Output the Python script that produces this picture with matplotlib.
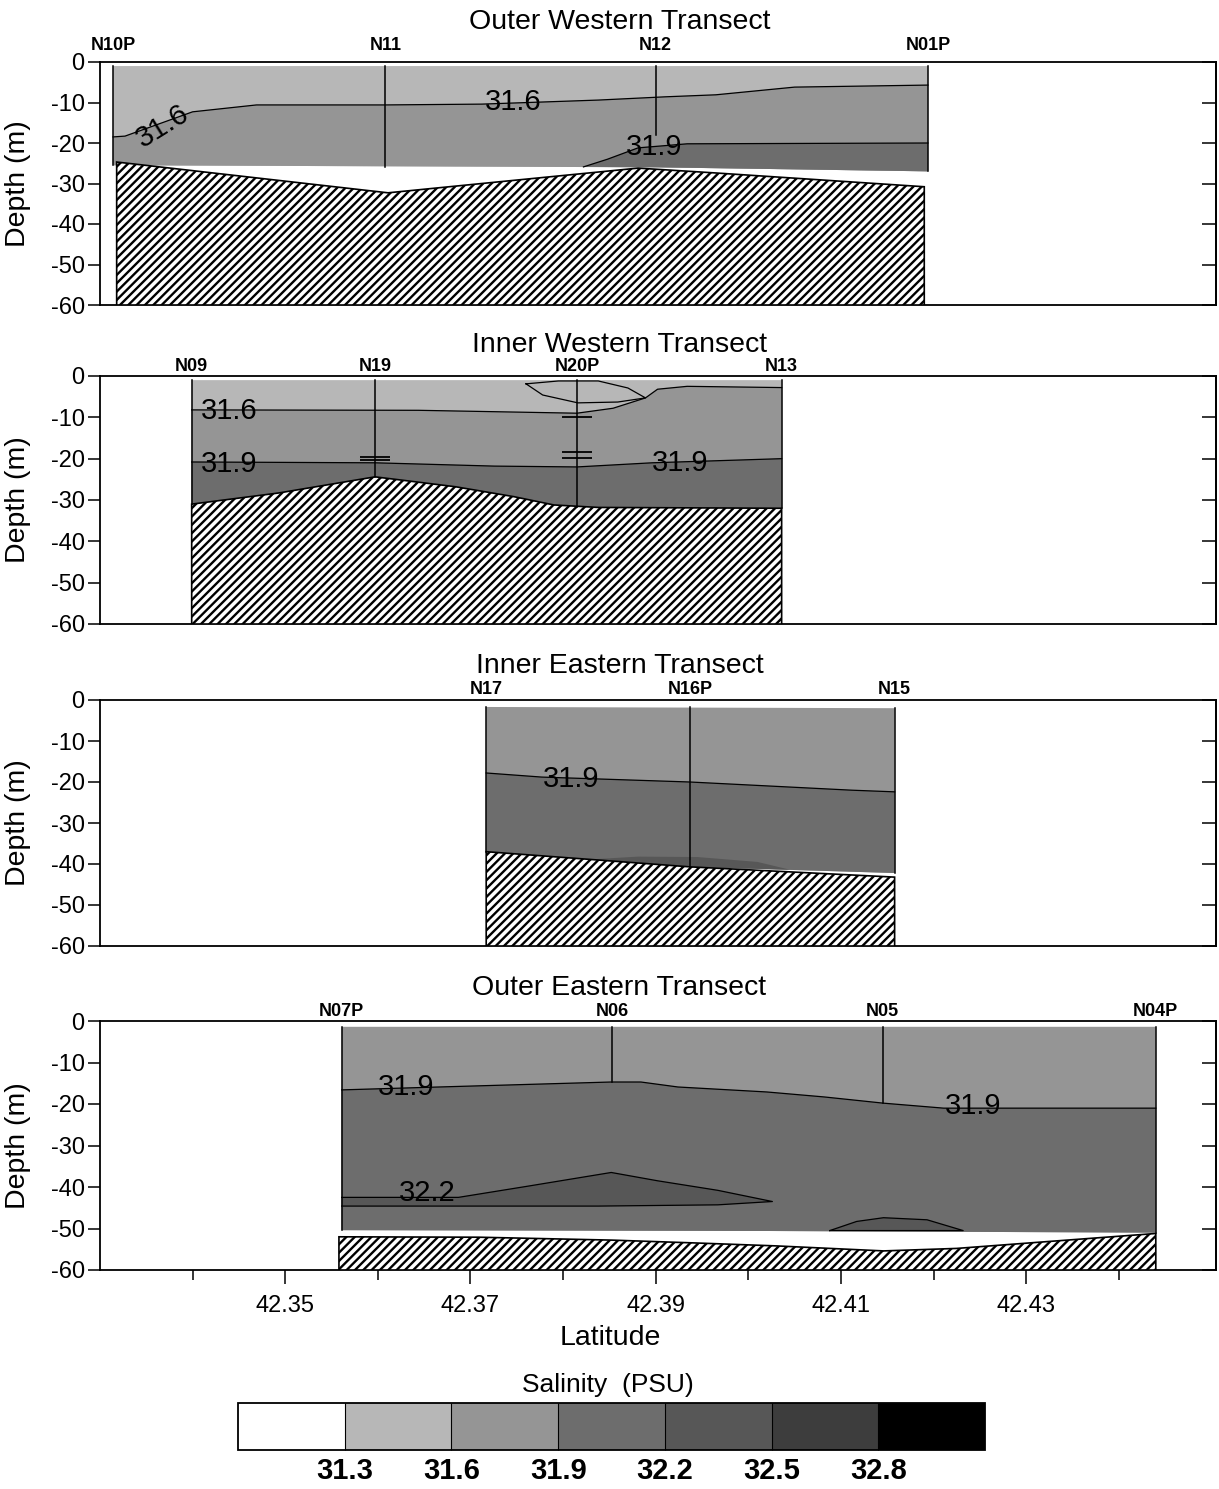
import numpy as np
import matplotlib
matplotlib.use('Agg')
import matplotlib.pyplot as plt
from matplotlib.colors import ListedColormap, BoundaryNorm
import matplotlib.cm as cm
import matplotlib.transforms as mtransforms

plt.rcParams['font.family'] = ['Liberation Sans', 'DejaVu Sans']
plt.rcParams['hatch.linewidth'] = 1.7
plt.rcParams['axes.unicode_minus'] = False

# ---------------- salinity classes / axes ----------------
sal_levels = [31.0, 31.3, 31.6, 31.9, 32.2, 32.5, 32.8, 33.1]
sal_ticks = [31.3, 31.6, 31.9, 32.2, 32.5, 32.8]
class_colors = ['#ffffff', '#b7b7b7', '#959595', '#6d6d6d', '#575757', '#3d3d3d', '#000000']
lat_ticks = [42.35, 42.37, 42.39, 42.41, 42.43]
lat_minor = [42.34, 42.36, 42.38, 42.40, 42.42, 42.44]
depth_ticks = [0, -10, -20, -30, -40, -50, -60]
titles = ['Outer Western Transect', 'Inner Western Transect',
          'Inner Eastern Transect', 'Outer Eastern Transect']

# ---------------- Outer Western ----------------
ow_names = ['N10P', 'N11', 'N12', 'N01P']
ow_lat = [42.3314, 42.3608, 42.3900, 42.4194]
ow_cast = [-25.5, -26.0, -18.0, -27.0]
ow_top = [-1.0, -1.0]
ow_bot_lat = [42.3314, 42.3900, 42.4194]
ow_bot = [-25.5, -26.0, -27.0]
ow_iso316_lat = [42.3314, 42.3327, 42.3400, 42.3469, 42.3608, 42.3712, 42.3838, 42.3910, 42.3965, 42.4050, 42.4194]
ow_iso316 = [-18.5, -18.3, -12.3, -10.6, -10.6, -10.4, -9.4, -8.6, -8.1, -6.2, -5.7]
ow_iso319_lat = [42.3822, 42.3848, 42.3881, 42.3934, 42.4194]
ow_iso319 = [-25.9, -24.0, -21.2, -20.2, -20.0]
ow_bathy_lat = [42.3318, 42.3611, 42.3730, 42.3881, 42.3965, 42.4190]
ow_bathy = [-24.7, -32.3, -29.6, -26.2, -27.4, -30.8]
ow_labels = [('31.6', 42.3368, -15.8, 32), ('31.6', 42.3746, -9.9, 0), ('31.9', 42.3898, -21.0, 0)]

# ---------------- Inner Western ----------------
iw_names = ['N09', 'N19', 'N20P', 'N13']
iw_lat = [42.3399, 42.3597, 42.3815, 42.4036]
iw_cast = [-31.0, -24.4, -31.7, -32.0]
iw_top = [-1.0, -1.0]
iw_bot_lat = [42.3399, 42.3493, 42.3597, 42.3684, 42.3747, 42.3790, 42.3838, 42.4036]
iw_bot = [-31.0, -28.3, -24.4, -26.8, -29.2, -31.2, -31.8, -32.0]
iw_iso316_lat = [42.3399, 42.3644, 42.3815, 42.3854, 42.3889, 42.3902, 42.3934, 42.4036]
iw_iso316 = [-8.2, -8.3, -9.0, -7.8, -5.3, -3.2, -2.5, -2.8]
iw_iso319_lat = [42.3399, 42.3597, 42.3726, 42.3815, 42.3896, 42.4036]
iw_iso319 = [-20.8, -21.0, -21.8, -22.0, -21.0, -20.0]
iw_lens_lat = [42.3760, 42.3795, 42.3838, 42.3870, 42.3889, 42.3859, 42.3816, 42.3778, 42.3760]
iw_lens = [-1.9, -1.2, -1.2, -2.9, -5.3, -6.3, -6.5, -4.6, -1.9]
iw_bathy_lat = iw_bot_lat
iw_bathy = iw_bot
iw_mark_lat = [42.3597, 42.3597, 42.3815, 42.3815, 42.3815]
iw_mark = [-19.6, -20.4, -9.9, -18.4, -19.9]
iw_labels = [('31.6', 42.3439, -8.5, 0), ('31.9', 42.3439, -21.3, 0), ('31.9', 42.3926, -21.0, 0)]

# ---------------- Inner Eastern ----------------
ie_names = ['N17', 'N16P', 'N15']
ie_lat = [42.3717, 42.3937, 42.4158]
ie_cast = [-37.0, -40.7, -42.2]
ie_top = [-1.7, -2.0]
ie_bot_lat = [42.3717, 42.3937, 42.4158]
ie_bot = [-37.0, -40.7, -42.2]
ie_iso319_lat = [42.3717, 42.3777, 42.3937, 42.4112, 42.4158]
ie_iso319 = [-17.8, -18.8, -20.0, -22.0, -22.4]
ie_lens_lat = [42.3828, 42.3881, 42.3945, 42.4010, 42.4045, 42.3937, 42.3828]
ie_lens = [-38.9, -38.2, -38.3, -39.5, -41.4, -40.7, -38.9]
ie_bathy_lat = [42.3717, 42.3937, 42.4158]
ie_bathy = [-37.0, -40.7, -43.2]
ie_labels = [('31.9', 42.3809, -19.3, 0)]

# ---------------- Outer Eastern ----------------
oe_names = ['N07P', 'N06', 'N05', 'N04P']
oe_lat = [42.3561, 42.3853, 42.4145, 42.4440]
oe_cast = [-50.4, -14.7, -19.8, -51.0]
oe_top = [-1.4, -1.4]
oe_bot_lat = [42.3561, 42.4020, 42.4440]
oe_bot = [-50.4, -50.6, -51.0]
oe_iso319_lat = [42.3561, 42.3666, 42.3852, 42.3884, 42.3924, 42.4020, 42.4082, 42.4146, 42.4211, 42.4440]
oe_iso319 = [-16.6, -15.9, -14.7, -14.7, -15.9, -17.1, -18.3, -19.8, -21.0, -21.0]
oe_lens1_lat = [42.3561, 42.3687, 42.3762, 42.3852, 42.3902, 42.3967, 42.4026, 42.3967, 42.3838, 42.3687, 42.3561]
oe_lens1 = [-42.5, -42.5, -39.8, -36.5, -38.5, -40.8, -43.5, -44.3, -44.6, -44.6, -44.6]
oe_lens2_lat = [42.4088, 42.4117, 42.4146, 42.4193, 42.4232, 42.4088]
oe_lens2 = [-50.5, -48.3, -47.4, -47.9, -50.5, -50.5]
oe_bathy_lat = [42.3558, 42.3709, 42.3853, 42.3945, 42.4031, 42.4146, 42.4225, 42.4332, 42.4440]
oe_bathy = [-52.0, -52.1, -52.8, -53.5, -54.2, -55.4, -54.8, -53.0, -51.2]
oe_labels = [('31.9', 42.3631, -15.9, 0), ('31.9', 42.4243, -20.5, 0), ('32.2', 42.3653, -41.4, 0)]

# ---------------- figure ----------------
fig = plt.figure(figsize=(12.19, 14.89), dpi=100)
W, H = 1219.0, 1489.0
panel_px = [(62, 305), (376, 624), (700, 946), (1021, 1270)]
title_px = [22, 345, 666, 988]
name_px = [46, 367, 690, 1012]
left_px, right_px = 100, 1216

LW_LINE = 0.9


def poly_fill(ax, xs, ys, color, zorder=2):
    ax.fill(xs, ys, facecolor=color, edgecolor='none', zorder=zorder)


def region(ax, st_lat, top, bot_lat, bot, color):
    xs = [st_lat[0], st_lat[-1]] + list(bot_lat[::-1])
    ys = [top[0], top[1]] + list(bot[::-1])
    poly_fill(ax, xs, ys, color, 2)


def below(ax, iso_lat, iso, bot_lat, bot, color):
    xs = list(iso_lat)
    ys = list(iso)
    for bl, bd in zip(bot_lat[::-1], bot[::-1]):
        if iso_lat[0] - 3e-4 <= bl <= iso_lat[-1] + 3e-4:
            xs.append(bl)
            ys.append(bd)
    poly_fill(ax, xs, ys, color, 3)
    ax.plot(iso_lat, iso, color='k', lw=LW_LINE, zorder=5)


def lens(ax, llat, ldep, color, outline=True):
    poly_fill(ax, llat, ldep, color, 4)
    if outline:
        ax.plot(llat, ldep, color='k', lw=LW_LINE, zorder=5)


def bathy(ax, blat, bdep):
    xs = list(blat) + [blat[-1], blat[0]]
    ys = list(bdep) + [-60, -60]
    ax.fill(xs, ys, facecolor='white', edgecolor='black', hatch='////',
            linewidth=1.2, zorder=6)


def stations(ax, names, lats, casts, top, y_name_px, ax_top_px):
    trans = mtransforms.blended_transform_factory(ax.transData, ax.transAxes)
    off = (ax_top_px - y_name_px) * 0.72
    for i, (n, la, c) in enumerate(zip(names, lats, casts)):
        t = top[0] if i < len(names) - 1 else top[1]
        ax.plot([la, la], [t, c], color='k', lw=1.1, zorder=7)
        ax.annotate(n, xy=(la, 1.0), xycoords=trans, xytext=(0, off),
                    textcoords='offset points', ha='center', va='center',
                    fontsize=13, fontweight='bold', annotation_clip=False)


def labels(ax, labs):
    for t, la, d, rot in labs:
        ax.text(la, d, t, fontsize=21, ha='center', va='center', rotation=rot,
                zorder=8, color='k')


axes = []
for k, (t_px, b_px) in enumerate(panel_px):
    ax = fig.add_axes([left_px / W, 1 - b_px / H, (right_px - left_px) / W, (b_px - t_px) / H])
    ax.set_xlim(42.330, 42.4505)
    ax.set_ylim(-60, 0)
    ax.set_yticks(depth_ticks)
    ax.set_yticklabels([str(v) for v in depth_ticks], fontsize=17)
    ax.tick_params(axis='y', direction='out', length=9, width=1.1, pad=2)
    for s in ax.spines.values():
        s.set_linewidth(1.3)
    sec = ax.secondary_yaxis('right')
    sec.set_yticks(depth_ticks)
    sec.tick_params(axis='y', direction='in', length=10, width=1.1, labelright=False)
    sec.spines['right'].set_linewidth(1.3)
    ax.set_ylabel('Depth (m)', fontsize=20.5)
    ax.yaxis.set_label_coords(-0.062, 0.5)
    ax.annotate(titles[k], xy=(0.4655, 1.0), xycoords='axes fraction',
                xytext=(0, (t_px - title_px[k]) * 0.72), textcoords='offset points',
                ha='center', va='center', fontsize=20.5, annotation_clip=False)
    if k < 3:
        ax.set_xticks([])
    else:
        ax.set_xticks(lat_ticks)
        ax.set_xticklabels([f'{v:.2f}' for v in lat_ticks], fontsize=17)
        ax.set_xticks(lat_minor, minor=True)
        ax.tick_params(axis='x', which='major', direction='out', length=10, width=1.1, pad=8)
        ax.tick_params(axis='x', which='minor', direction='out', length=7, width=1.1)
        ax.set_xlabel('Latitude', fontsize=20.5)
        ax.xaxis.set_label_coords(0.457, -0.22)
    axes.append(ax)

C = class_colors

# Outer Western
ax = axes[0]
region(ax, ow_lat, ow_top, ow_bot_lat, ow_bot, C[1])
below(ax, ow_iso316_lat, ow_iso316, ow_bot_lat, ow_bot, C[2])
below(ax, ow_iso319_lat, ow_iso319, ow_bot_lat, ow_bot, C[3])
bathy(ax, ow_bathy_lat, ow_bathy)
stations(ax, ow_names, ow_lat, ow_cast, ow_top, name_px[0], panel_px[0][0])
labels(ax, ow_labels)

# Inner Western
ax = axes[1]
region(ax, iw_lat, iw_top, iw_bot_lat, iw_bot, C[1])
below(ax, iw_iso316_lat, iw_iso316, iw_bot_lat, iw_bot, C[2])
below(ax, iw_iso319_lat, iw_iso319, iw_bot_lat, iw_bot, C[3])
ax.plot(iw_lens_lat, iw_lens, color='k', lw=LW_LINE, zorder=5)
bathy(ax, iw_bathy_lat, iw_bathy)
stations(ax, iw_names, iw_lat, iw_cast, iw_top, name_px[1], panel_px[1][0])
ax.plot(iw_mark_lat, iw_mark, linestyle='none', marker='_', markersize=22,
        mew=1.3, color='k', zorder=7)
labels(ax, iw_labels)

# Inner Eastern
ax = axes[2]
region(ax, ie_lat, ie_top, ie_bot_lat, ie_bot, C[2])
below(ax, ie_iso319_lat, ie_iso319, ie_bot_lat, ie_bot, C[3])
lens(ax, ie_lens_lat, ie_lens, C[4], outline=False)
bathy(ax, ie_bathy_lat, ie_bathy)
stations(ax, ie_names, ie_lat, ie_cast, ie_top, name_px[2], panel_px[2][0])
labels(ax, ie_labels)

# Outer Eastern
ax = axes[3]
region(ax, oe_lat, oe_top, oe_bot_lat, oe_bot, C[2])
below(ax, oe_iso319_lat, oe_iso319, oe_bot_lat, oe_bot, C[3])
lens(ax, oe_lens1_lat, oe_lens1, C[4])
lens(ax, oe_lens2_lat, oe_lens2, C[4])
bathy(ax, oe_bathy_lat, oe_bathy)
stations(ax, oe_names, oe_lat, oe_cast, oe_top, name_px[3], panel_px[3][0])
labels(ax, oe_labels)

# ---------------- colorbar ----------------
cmap = ListedColormap(class_colors)
norm = BoundaryNorm(sal_levels, cmap.N)
cax = fig.add_axes([238 / W, 1 - 1450 / H, (985 - 238) / W, 47 / H])
sm = cm.ScalarMappable(norm=norm, cmap=cmap)
cb = fig.colorbar(sm, cax=cax, orientation='horizontal', ticks=sal_ticks,
                  spacing='uniform', drawedges=True)
cb.ax.minorticks_off()
cb.ax.set_xticklabels([f'{v:.1f}' for v in sal_ticks], fontsize=21, fontweight='bold')
cb.ax.tick_params(length=0, pad=5)
cb.outline.set_linewidth(1.3)
cb.dividers.set_linewidth(0.8)
fig.text(608 / W, 1 - 1385 / H, 'Salinity  (PSU)', ha='center', va='center', fontsize=19)

fig.savefig('out.png', dpi=100)
